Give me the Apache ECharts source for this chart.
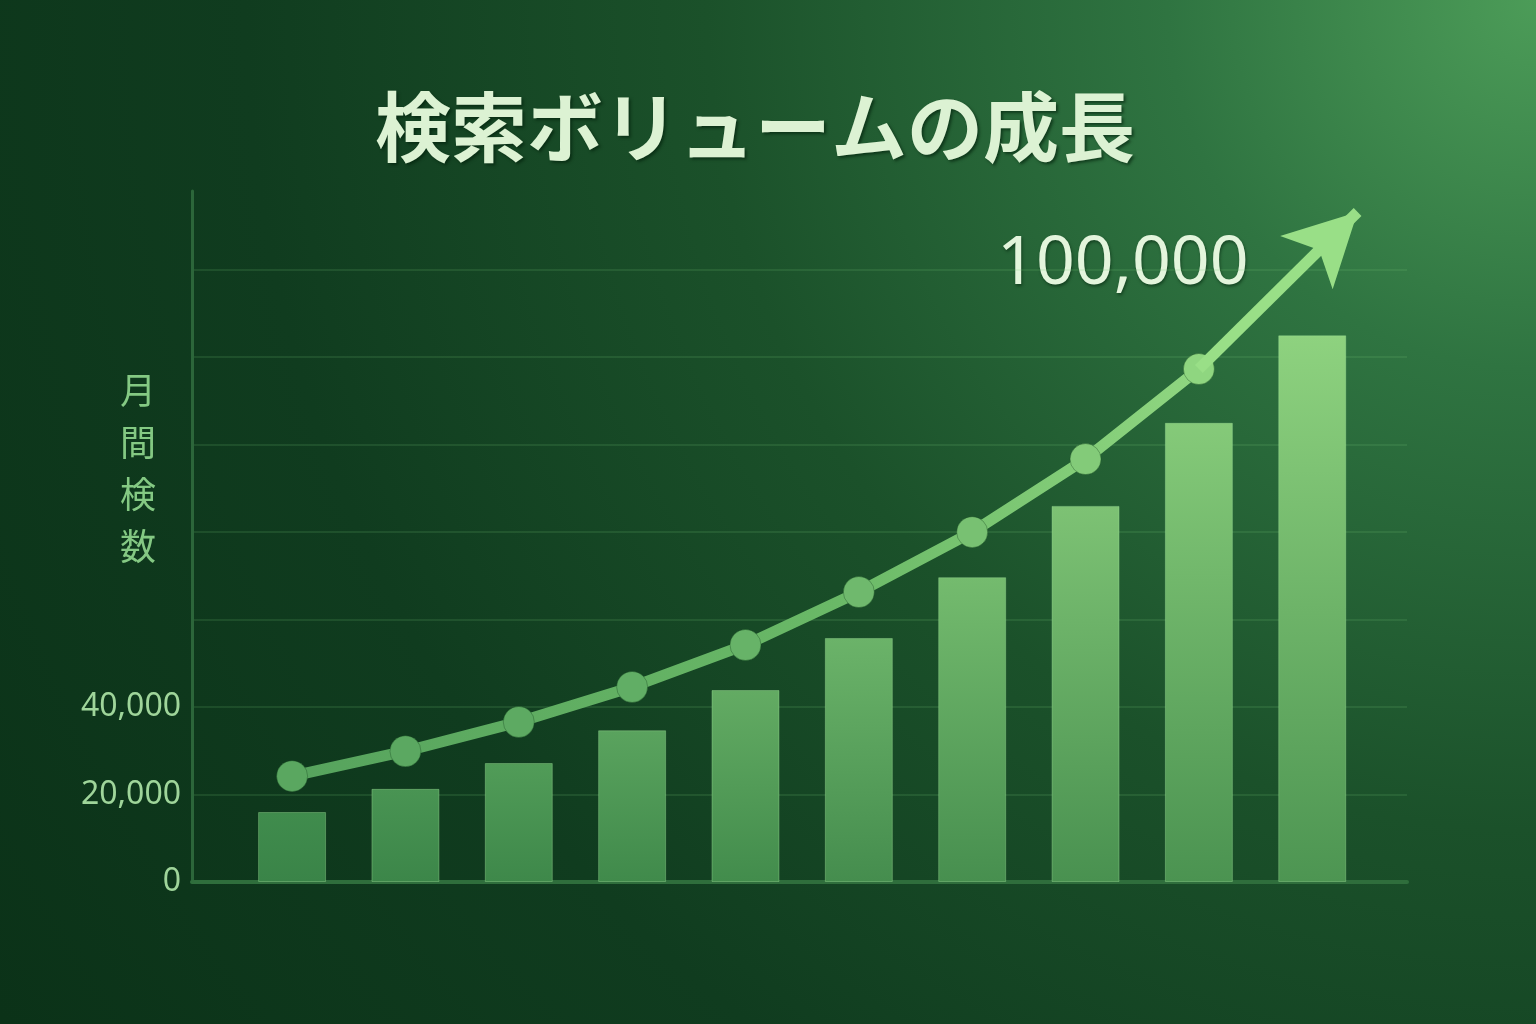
<!DOCTYPE html>
<html>
<head>
<meta charset="utf-8">
<title>検索ボリュームの成長</title>
<script src="https://cdn.jsdelivr.net/npm/echarts@6/dist/echarts.min.js"></script>
<style>
  html, body { margin: 0; padding: 0; background: #0d361b; }
  #main { width: 1536px; height: 1024px; }
</style>
</head>
<body>
<div id="main"></div>
<script>
// datos
var titulo = '検索ボリュームの成長';
var nombreEjeY = '月間検数';
var etiquetaPico = '100,000';
var meses = [0, 1, 2, 3, 4, 5, 6, 7, 8, 9];
var barras = [16000, 21300, 27200, 34700, 43900, 55800, 69700, 86000, 105000, 125000];
var tendencia = [24200, 29900, 36600, 44600, 54200, 66300, 80000, 96700, 117300];
var finFlecha = [9.4, 153200];
var ticksY = [0, 20000, 40000];

function mezclar(a, b, t) { // interpola dos colores hex
    var pa = parseInt(a.slice(1), 16), pb = parseInt(b.slice(1), 16);
    var r = Math.round(((pa >> 16) & 255) * (1 - t) + ((pb >> 16) & 255) * t);
    var g = Math.round(((pa >> 8) & 255) * (1 - t) + ((pb >> 8) & 255) * t);
    var bl = Math.round((pa & 255) * (1 - t) + (pb & 255) * t);
    return 'rgb(' + r + ',' + g + ',' + bl + ')';
}

function colorBarra(i) {
    var t = i / (meses.length - 1);
    return {
        type: 'linear', x: 0, y: 0, x2: 0, y2: 1,
        colorStops: [
            { offset: 0, color: mezclar('#408c4d', '#8ed27f', t) },
            { offset: 1, color: mezclar('#3a8448', '#4d9552', t) }
        ]
    };
}

function colorPunto(i) {
    var t = i / (tendencia.length - 1);
    return mezclar('#5aa760', '#8fd680', t * t);
}

var chart = echarts.init(document.getElementById('main'), null, { renderer: 'canvas' });

var option = {
    animation: false,
    backgroundColor: {
        type: 'radial', x: 1, y: 0, r: 1.8,
        colorStops: [
            { offset: 0, color: '#4c9c58' },
            { offset: 0.2, color: '#2f7441' },
            { offset: 0.45, color: '#1b512a' },
            { offset: 0.7, color: '#103c1f' },
            { offset: 1, color: '#0b3218' }
        ]
    },
    grid: { left: 192, right: 129, top: 191, bottom: 142 },
    xAxis: {
        type: 'value',
        min: -0.883,
        max: 9.836,
        axisLine: { show: true, onZero: false, lineStyle: { color: '#2f6e3c', width: 4 } },
        axisTick: { show: false },
        axisLabel: { show: false },
        splitLine: { show: false }
    },
    yAxis: {
        type: 'value',
        min: 0,
        max: 158000,
        interval: 20000,
        axisLine: { show: true, onZero: false, lineStyle: { color: '#2c663a', width: 3 } },
        axisTick: { show: false },
        axisLabel: {
            margin: 11,
            color: '#9fd59a',
            fontFamily: 'Noto Sans',
            fontSize: 32,
            formatter: function (v) {
                return ticksY.indexOf(v) >= 0 ? echarts.format.addCommas(v) : '';
            }
        },
        splitLine: {
            show: true,
            lineStyle: {
                width: 1.5,
                color: ['rgba(0,0,0,0)', 'rgba(120,200,120,0.2)', 'rgba(120,200,120,0.2)',
                    'rgba(120,200,120,0.2)', 'rgba(120,200,120,0.2)', 'rgba(120,200,120,0.2)',
                    'rgba(120,200,120,0.2)', 'rgba(120,200,120,0.2)', 'rgba(0,0,0,0)']
            }
        }
    },
    series: [
        {
            type: 'bar',
            barWidth: 68,
            data: barras.map(function (v, i) {
                return {
                    value: [meses[i], v],
                    itemStyle: { color: colorBarra(i), borderColor: 'rgba(170,235,160,0.35)', borderWidth: 1 }
                };
            }),
            z: 2
        },
        {
            type: 'line',
            data: tendencia.map(function (v, i) {
                return { value: [meses[i], v], itemStyle: { color: colorPunto(i) } };
            }),
            symbol: 'circle',
            symbolSize: 31,
            lineStyle: {
                width: 11,
                color: {
                    type: 'linear', x: 0, y: 0, x2: 1, y2: 0,
                    colorStops: [
                        { offset: 0, color: '#56a35d' },
                        { offset: 0.6, color: '#6ab967' },
                        { offset: 1, color: '#90d781' }
                    ]
                }
            },
            itemStyle: { borderColor: 'rgba(20,70,30,0.35)', borderWidth: 1 },
            markLine: {
                silent: true,
                symbol: ['none', 'arrow'],
                symbolSize: [56, 72],
                label: { show: false },
                lineStyle: { type: 'solid', width: 11, color: '#99df87' },
                data: [[
                    { coord: [meses[tendencia.length - 1], tendencia[tendencia.length - 1]] },
                    { coord: finFlecha }
                ]]
            },
            z: 3
        }
    ],
    graphic: [
        {
            type: 'text',
            style: {
                x: 755, y: 127,
                text: titulo,
                textAlign: 'center',
                textVerticalAlign: 'middle',
                fontFamily: 'Noto Sans CJK JP',
                fontWeight: 'bold',
                fontSize: 76,
                fill: '#dcf2d3',
                textShadowColor: 'rgba(0,30,10,0.6)',
                textShadowBlur: 3,
                textShadowOffsetX: 2,
                textShadowOffsetY: 2
            }
        },
        {
            type: 'text',
            style: {
                x: 138, y: 364,
                text: nombreEjeY.split('').join('\n'),
                textAlign: 'center',
                fontFamily: 'Noto Sans CJK JP',
                fontSize: 36,
                lineHeight: 52,
                fill: '#84c983'
            }
        },
        {
            type: 'text',
            style: {
                x: 997, y: 265,
                text: etiquetaPico,
                textAlign: 'left',
                textVerticalAlign: 'middle',
                fontFamily: 'Noto Sans',
                fontSize: 68,
                fill: '#e3f5dc',
                textShadowColor: 'rgba(0,30,10,0.5)',
                textShadowBlur: 3,
                textShadowOffsetX: 1,
                textShadowOffsetY: 2
            }
        }
    ]
};

chart.setOption(option);
</script>
</body>
</html>
